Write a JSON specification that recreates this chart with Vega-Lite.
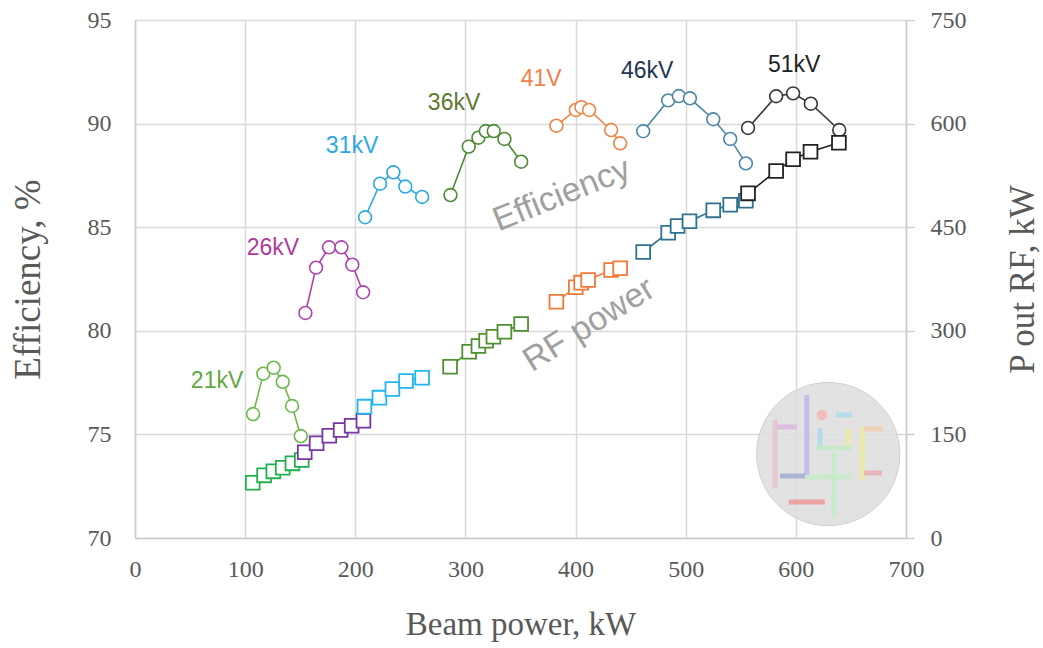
{
  "$schema": "https://vega.github.io/schema/vega-lite/v6.json",
  "width": 771,
  "height": 518,
  "autosize": {"type": "none"},
  "padding": {"left": 135, "top": 20, "right": 137, "bottom": 110},
  "background": "white",
  "config": {
    "view": {"stroke": null},
    "axis": {
      "labelFont": "Liberation Serif",
      "labelFontSize": 24,
      "labelColor": "#595959",
      "labelFlush": false,
      "titleFont": "Liberation Serif",
      "titleFontSize": 35,
      "titleFontWeight": "normal",
      "titleColor": "#595959",
      "gridColor": "#d9d9d9",
      "gridWidth": 1.5,
      "domainColor": "#cccccc",
      "domainWidth": 1.5,
      "tickColor": "#cccccc",
      "tickWidth": 1.5
    }
  },
  "datasets": {
    "eff": [
      {"s": "21kV", "beam": 107.2, "eff": 75.98},
      {"s": "21kV", "beam": 116.5, "eff": 77.93},
      {"s": "21kV", "beam": 125.9, "eff": 78.22},
      {"s": "21kV", "beam": 134.1, "eff": 77.54},
      {"s": "21kV", "beam": 142.6, "eff": 76.37},
      {"s": "21kV", "beam": 150.5, "eff": 74.92},
      {"s": "26kV", "beam": 154.7, "eff": 80.86},
      {"s": "26kV", "beam": 164.4, "eff": 83.05},
      {"s": "26kV", "beam": 176.2, "eff": 84.03},
      {"s": "26kV", "beam": 187.4, "eff": 84.03},
      {"s": "26kV", "beam": 197.3, "eff": 83.19},
      {"s": "26kV", "beam": 207.1, "eff": 81.86},
      {"s": "31kV", "beam": 208.9, "eff": 85.48},
      {"s": "31kV", "beam": 222.5, "eff": 87.1},
      {"s": "31kV", "beam": 234.6, "eff": 87.65},
      {"s": "31kV", "beam": 245.4, "eff": 86.96},
      {"s": "31kV", "beam": 260.7, "eff": 86.46},
      {"s": "36kV", "beam": 286.4, "eff": 86.55},
      {"s": "36kV", "beam": 303.0, "eff": 88.89},
      {"s": "36kV", "beam": 311.8, "eff": 89.32},
      {"s": "36kV", "beam": 318.5, "eff": 89.64},
      {"s": "36kV", "beam": 325.7, "eff": 89.64},
      {"s": "36kV", "beam": 335.4, "eff": 89.26},
      {"s": "36kV", "beam": 350.6, "eff": 88.16},
      {"s": "41V", "beam": 382.6, "eff": 89.9},
      {"s": "41V", "beam": 400.2, "eff": 90.66},
      {"s": "41V", "beam": 405.3, "eff": 90.79},
      {"s": "41V", "beam": 412.3, "eff": 90.66},
      {"s": "41V", "beam": 432.3, "eff": 89.69},
      {"s": "41V", "beam": 440.5, "eff": 89.05},
      {"s": "46kV", "beam": 461.4, "eff": 89.63},
      {"s": "46kV", "beam": 484.1, "eff": 91.12},
      {"s": "46kV", "beam": 493.8, "eff": 91.33},
      {"s": "46kV", "beam": 503.8, "eff": 91.22},
      {"s": "46kV", "beam": 525.0, "eff": 90.21},
      {"s": "46kV", "beam": 540.4, "eff": 89.26},
      {"s": "46kV", "beam": 554.6, "eff": 88.08},
      {"s": "51kV", "beam": 556.6, "eff": 89.79},
      {"s": "51kV", "beam": 582.1, "eff": 91.32},
      {"s": "51kV", "beam": 597.5, "eff": 91.46},
      {"s": "51kV", "beam": 613.6, "eff": 90.96},
      {"s": "51kV", "beam": 639.4, "eff": 89.69}
    ],
    "pow": [
      {"s": "21kV", "beam": 106.9, "p": 80.1},
      {"s": "21kV", "beam": 117.2, "p": 90.7},
      {"s": "21kV", "beam": 125.6, "p": 96.5},
      {"s": "21kV", "beam": 134.1, "p": 101.8},
      {"s": "21kV", "beam": 142.9, "p": 108.1},
      {"s": "21kV", "beam": 151.4, "p": 112.9},
      {"s": "26kV", "beam": 154.1, "p": 124.1},
      {"s": "26kV", "beam": 164.9, "p": 137.1},
      {"s": "26kV", "beam": 176.4, "p": 148.1},
      {"s": "26kV", "beam": 186.7, "p": 156.4},
      {"s": "26kV", "beam": 196.7, "p": 162.6},
      {"s": "26kV", "beam": 207.4, "p": 169.9},
      {"s": "31kV", "beam": 208.3, "p": 190.2},
      {"s": "31kV", "beam": 221.9, "p": 203.2},
      {"s": "31kV", "beam": 233.7, "p": 215.7},
      {"s": "31kV", "beam": 246.1, "p": 227.3},
      {"s": "31kV", "beam": 260.7, "p": 232.1},
      {"s": "36kV", "beam": 286.1, "p": 248.0},
      {"s": "36kV", "beam": 303.4, "p": 269.7},
      {"s": "36kV", "beam": 311.8, "p": 278.0},
      {"s": "36kV", "beam": 318.8, "p": 285.7},
      {"s": "36kV", "beam": 325.4, "p": 291.5},
      {"s": "36kV", "beam": 335.4, "p": 298.7},
      {"s": "36kV", "beam": 350.6, "p": 309.8},
      {"s": "41V", "beam": 382.6, "p": 342.1},
      {"s": "41V", "beam": 400.2, "p": 363.0},
      {"s": "41V", "beam": 405.1, "p": 369.7},
      {"s": "41V", "beam": 411.4, "p": 373.5},
      {"s": "41V", "beam": 432.3, "p": 388.0},
      {"s": "41V", "beam": 440.5, "p": 390.5},
      {"s": "46kV", "beam": 461.4, "p": 414.1},
      {"s": "46kV", "beam": 484.1, "p": 442.0},
      {"s": "46kV", "beam": 492.6, "p": 451.7},
      {"s": "46kV", "beam": 503.4, "p": 458.5},
      {"s": "46kV", "beam": 525.0, "p": 474.4},
      {"s": "46kV", "beam": 540.4, "p": 482.6},
      {"s": "46kV", "beam": 554.6, "p": 488.4},
      {"s": "51kV", "beam": 556.6, "p": 499.0},
      {"s": "51kV", "beam": 582.1, "p": 531.3},
      {"s": "51kV", "beam": 597.5, "p": 548.3},
      {"s": "51kV", "beam": 613.3, "p": 559.3},
      {"s": "51kV", "beam": 639.1, "p": 572.3}
    ],
    "tags": [
      {"s": "21kV tag", "label": "21kV", "beam": 74.5, "eff": 77.6},
      {"s": "26kV tag", "label": "26kV", "beam": 125.3, "eff": 84.0},
      {"s": "31kV tag", "label": "31kV", "beam": 197.1, "eff": 88.9},
      {"s": "36kV tag", "label": "36kV", "beam": 289.7, "eff": 91.0},
      {"s": "41V tag", "label": "41V", "beam": 368.7, "eff": 92.15},
      {"s": "46kV tag", "label": "46kV", "beam": 465.0, "eff": 92.54},
      {"s": "51kV tag", "label": "51kV", "beam": 598.5, "eff": 92.83}
    ],
    "notes": [
      {"label": "Efficiency", "beam": 387.5, "eff": 86.55, "angle": -22},
      {"label": "RF power", "beam": 412.4, "eff": 80.28, "angle": -32}
    ],
    "badge": [
      {"beam": 629.4, "eff": 74.05}
    ],
    "badgeBars": [
      {"part": "pink", "beam": 581.1, "beam2": 581.1, "eff": 75.69, "eff2": 72.41},
      {"part": "lilac", "beam": 582.9, "beam2": 601.0, "eff": 75.36, "eff2": 75.36},
      {"part": "blue", "beam": 609.9, "beam2": 609.9, "eff": 76.9, "eff2": 73.04},
      {"part": "navy", "beam": 585.6, "beam2": 608.3, "eff": 72.99, "eff2": 72.99},
      {"part": "sky", "beam": 621.9, "beam2": 621.9, "eff": 75.31, "eff2": 74.34},
      {"part": "sky", "beam": 636.5, "beam2": 651.0, "eff": 75.94, "eff2": 75.94},
      {"part": "lemon", "beam": 647.3, "beam2": 647.3, "eff": 75.31, "eff2": 74.34},
      {"part": "mint", "beam": 619.2, "beam2": 650.9, "eff": 74.34, "eff2": 74.34},
      {"part": "mint", "beam": 634.6, "beam2": 634.6, "eff": 74.15, "eff2": 70.97},
      {"part": "mint", "beam": 609.2, "beam2": 650.9, "eff": 72.94, "eff2": 72.94},
      {"part": "lemon", "beam": 660.2, "beam2": 660.2, "eff": 75.36, "eff2": 72.8},
      {"part": "peach", "beam": 662.0, "beam2": 678.2, "eff": 75.26, "eff2": 75.26},
      {"part": "rose", "beam": 662.0, "beam2": 678.2, "eff": 73.14, "eff2": 73.14},
      {"part": "red", "beam": 593.6, "beam2": 626.3, "eff": 71.74, "eff2": 71.74}
    ],
    "badgeDot": [
      {"beam": 623.6, "eff": 75.94}
    ]
  },
  "layer": [
    {
      "encoding": {
        "x": {"field": "beam", "type": "quantitative", "scale": {"domain": [0, 700], "nice": false}},
        "y": {"field": "eff", "type": "quantitative", "scale": {"domain": [70, 95], "nice": false, "zero": false}, "axis": null}
      },
      "layer": [
        {
          "data": {"name": "badge"},
          "mark": {"type": "point", "shape": "circle", "filled": true, "size": 20500, "color": "#dedede", "opacity": 0.85, "stroke": "#c8c8c8", "strokeWidth": 1}
        },
        {
          "data": {"name": "badgeBars"},
          "mark": {"type": "rule", "strokeWidth": 5, "opacity": 0.6},
          "encoding": {
            "x2": {"field": "beam2"},
            "y2": {"field": "eff2"},
            "color": {
              "field": "part",
              "type": "nominal",
              "legend": null,
              "scale": {
                "domain": ["pink", "lilac", "blue", "navy", "sky", "lemon", "mint", "peach", "rose", "red"],
                "range": ["#e7b7c2", "#d9a9dd", "#a9a9ec", "#8a98c8", "#9ad8f2", "#f4ee88", "#bdeebd", "#f9c69a", "#ef9a9a", "#f07878"]
              }
            }
          }
        },
        {
          "data": {"name": "badgeDot"},
          "mark": {"type": "point", "shape": "circle", "filled": true, "size": 110, "color": "#f4b4b4", "opacity": 0.8}
        }
      ]
    },
    {
      "encoding": {
        "x": {
          "field": "beam",
          "type": "quantitative",
          "scale": {"domain": [0, 700], "nice": false},
          "axis": {
            "values": [0, 100, 200, 300, 400, 500, 600, 700],
            "grid": true,
            "ticks": false,
            "labelPadding": 19,
            "title": "Beam power, kW",
            "titleFontSize": 33,
            "titlePadding": 27
          }
        },
        "y": {
          "field": "eff",
          "type": "quantitative",
          "scale": {"domain": [70, 95], "nice": false, "zero": false},
          "axis": {
            "orient": "left",
            "values": [70, 75, 80, 85, 90, 95],
            "grid": true,
            "ticks": false,
            "labelPadding": 24,
            "title": "Efficiency, %",
            "titleFontSize": 37,
            "titlePadding": 40
          }
        }
      },
      "layer": [
        {
          "data": {"name": "eff"},
          "mark": {"type": "line", "strokeWidth": 1.6},
          "encoding": {
            "color": {
              "field": "s",
              "type": "nominal",
              "legend": null,
              "scale": {
                "domain": ["21kV", "26kV", "31kV", "36kV", "41V", "46kV", "51kV", "21kV tag", "26kV tag", "31kV tag", "36kV tag", "41V tag", "46kV tag", "51kV tag"],
                "range": ["#6cb84c", "#ae44ae", "#2ea8e0", "#4e8a34", "#ef8447", "#4d87a8", "#383838", "#62a842", "#b03a9e", "#2aaae4", "#5b7a30", "#f07f4a", "#1f3552", "#222222"]
              }
            }
          }
        },
        {
          "data": {"name": "eff"},
          "mark": {"type": "point", "shape": "circle", "filled": true, "fill": "white", "size": 165, "strokeWidth": 1.6, "opacity": 1},
          "encoding": {
            "stroke": {
              "field": "s",
              "type": "nominal",
              "legend": null,
              "scale": {
                "domain": ["21kV", "26kV", "31kV", "36kV", "41V", "46kV", "51kV"],
                "range": ["#6cb84c", "#ae44ae", "#2ea8e0", "#4e8a34", "#ef8447", "#4d87a8", "#383838"]
              }
            }
          }
        },
        {
          "data": {"name": "tags"},
          "mark": {"type": "text", "font": "Liberation Sans", "fontSize": 23, "align": "center", "baseline": "middle"},
          "encoding": {
            "text": {"field": "label"},
            "color": {"field": "s", "type": "nominal", "legend": null}
          }
        },
        {
          "data": {"name": "notes"},
          "mark": {"type": "text", "font": "Liberation Sans", "fontSize": 34, "align": "center", "baseline": "middle", "color": "#a0a0a0"},
          "encoding": {
            "text": {"field": "label"},
            "angle": {"field": "angle", "type": "quantitative", "scale": null}
          }
        }
      ]
    },
    {
      "data": {"name": "pow"},
      "encoding": {
        "x": {"field": "beam", "type": "quantitative", "scale": {"domain": [0, 700], "nice": false}},
        "y": {
          "field": "p",
          "type": "quantitative",
          "scale": {"domain": [0, 750], "nice": false},
          "axis": {
            "orient": "right",
            "values": [0, 150, 300, 450, 600, 750],
            "grid": false,
            "ticks": true,
            "tickSize": 8,
            "labelPadding": 16,
            "title": "P out RF, kW",
            "titleAngle": -90,
            "titlePadding": 74
          }
        }
      },
      "layer": [
        {
          "mark": {"type": "line", "strokeWidth": 1.6},
          "encoding": {
            "color": {
              "field": "s",
              "type": "nominal",
              "legend": null,
              "scale": {
                "domain": ["21kV", "26kV", "31kV", "36kV", "41V", "46kV", "51kV"],
                "range": ["#22b04c", "#7636a6", "#20b8ee", "#4e9030", "#ef7a3a", "#2f7192", "#222222"]
              }
            }
          }
        },
        {
          "mark": {"type": "point", "shape": "square", "filled": true, "fill": "white", "size": 190, "strokeWidth": 1.8, "opacity": 1},
          "encoding": {
            "stroke": {
              "field": "s",
              "type": "nominal",
              "legend": null,
              "scale": {
                "domain": ["21kV", "26kV", "31kV", "36kV", "41V", "46kV", "51kV"],
                "range": ["#22b04c", "#7636a6", "#20b8ee", "#4e9030", "#ef7a3a", "#2f7192", "#222222"]
              }
            }
          }
        }
      ]
    }
  ],
  "resolve": {"scale": {"y": "independent", "color": "independent", "stroke": "independent"}}
}
